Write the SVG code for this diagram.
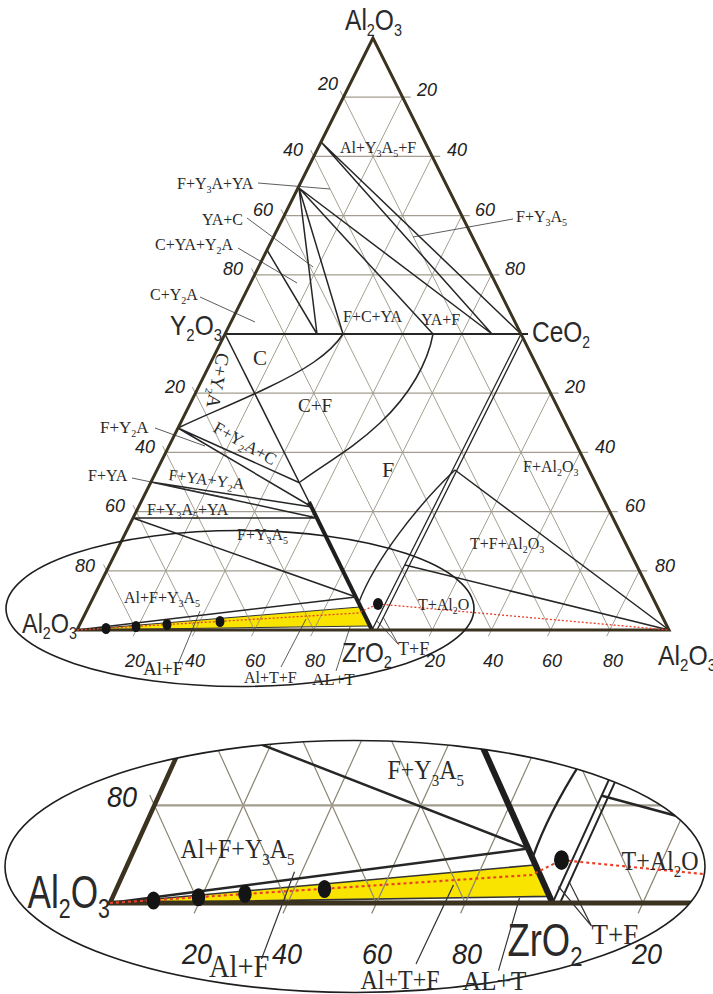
<svg xmlns="http://www.w3.org/2000/svg" width="713" height="994" viewBox="0 0 713 994">
<defs>
<style>
.frame{fill:none;stroke:#3b3220;stroke-width:3;stroke-linejoin:miter}
.gd{fill:none;stroke:#8d8675;stroke-width:0.8}
.gh{fill:none;stroke:#a39d90;stroke-width:1.3}
.ph{fill:none;stroke:#262626;stroke-width:1.5}
.thick{fill:none;stroke:#1e1e1e;stroke-width:4}
.ld{fill:none;stroke:#333;stroke-width:0.8}
.red{fill:none;stroke:#e8402a;stroke-width:1.3;stroke-dasharray:2 2}
.dot{fill:#141414}
.yel{fill:#f9e400;stroke:#333;stroke-width:1}
.ell{fill:none;stroke:#1e1e1e;stroke-width:1.6}
.t{font-family:"Liberation Serif","Times New Roman",serif;font-size:16px;fill:#2a2a2a}
.s{font-size:10px}
.n{font-family:"Liberation Sans",Arial,sans-serif;fill:#2a2a2a}
.tk{font-family:"Liberation Sans",Arial,sans-serif;font-style:italic;font-size:18px;fill:#222}
.m{text-anchor:middle}
</style>
<clipPath id="lowClip"><ellipse cx="355" cy="866.5" rx="350" ry="126"/></clipPath>
</defs>
<rect width="713" height="994" fill="#ffffff"/>

<g id="geom">
  <polygon class="yel" points="78,630 360,607 369,626"/>
  <g id="grid">
    <path class="gd" d="M133.1,636.3L402.6,97.2M192.3,636.3L432.2,156.4M251.5,636.3L461.8,215.6M310.7,636.3L491.4,274.8M429.1,636.3L550.6,393.2M488.3,636.3L580.2,452.4M547.5,636.3L609.8,511.6M606.7,636.3L639.4,570.8"/>
    <path class="gd" d="M340.3,90.9L609.8,630M310.7,150.1L550.6,630M281.1,209.3L491.4,630M251.5,268.5L432.2,630M192.3,386.9L313.8,630M162.7,446.1L254.6,630M133.1,505.3L195.4,630M103.5,564.5L136.2,630"/>
    <path class="gh" d="M343.4,97.2H410.6M313.8,156.4H440.2M284.2,215.6H469.8M254.6,274.8H499.4M195.4,393.2H558.6M165.8,452.4H588.2M136.2,511.6H617.8M106.6,570.8H647.4"/>
  </g>
  <g id="phase-lines">
    <path class="ph" d="M225,334H528" style="stroke-width:2"/>
    <path class="ph" d="M225,334L309,502"/>
    <path class="thick" d="M309,502L372,630"/>
    <path class="ph" d="M521,334L372,630M522.5,339L377,630" style="stroke-width:1.3"/>
    <path class="ph" d="M321,142L521,334M321,142L492,334M299,188L492,334M299,188L433,334M299,188L343,334M299,188L317,334M267,250L317,334"/>
    <path class="ph" d="M343,334C330,354 305,370 267,388S205,415 178,428"/>
    <path class="ph" d="M433,334C428,362 410,395 380,423S330,460 300,482"/>
    <path class="ph" d="M178,428L300,483M178,428L312,507M151,482L312,507M151,482L317,518M133,518L317,518M133,518L356,597M77,630L356,597"/>
    <path class="ph" d="M455,470C418,505 375,560 359,602"/>
    <path class="ph" d="M455,470L669,630M405,565L669,630"/>
  </g>
  <polygon class="frame" points="373,38 77,630 669,630"/>
  <path class="red" d="M77,630L358,613L378,604L669,630"/>
  <g id="dots">
    <ellipse class="dot" cx="106" cy="628.5" rx="4.5" ry="5.5"/>
    <ellipse class="dot" cx="136" cy="626.5" rx="4.5" ry="5.5"/>
    <ellipse class="dot" cx="167" cy="624.5" rx="4.5" ry="5.5"/>
    <ellipse class="dot" cx="220" cy="621.5" rx="4.5" ry="5.5"/>
    <ellipse class="dot" cx="378" cy="604" rx="5" ry="6"/>
  </g>
  <g id="leaders">
    <path class="ld" d="M258,183L330,189M247,218L313,267M238,248L297,283M200,297L255,322M513,219L413,237M155,428L205,446M132,478L233,499M398,644L376,620M398,644L383,617M178,664L200,611M281,667L306,619M336,671L350,627"/>
  </g>
</g>

<ellipse id="upper-ellipse" class="ell" cx="240" cy="608.5" rx="234" ry="78"/>

<g id="labels">
  <text class="n" x="345" y="30" font-size="29" textLength="57" lengthAdjust="spacingAndGlyphs">Al<tspan font-size="17" dy="6">2</tspan><tspan dy="-6">O</tspan><tspan font-size="17" dy="6">3</tspan></text>
  <text class="n" x="170" y="335" font-size="28" textLength="52" lengthAdjust="spacingAndGlyphs">Y<tspan font-size="17" dy="6">2</tspan><tspan dy="-6">O</tspan><tspan font-size="17" dy="6">3</tspan></text>
  <text class="n" x="532" y="342" font-size="30" textLength="58" lengthAdjust="spacingAndGlyphs">CeO<tspan font-size="17" dy="6">2</tspan></text>
  <text class="n" x="658" y="665" font-size="28" textLength="58" lengthAdjust="spacingAndGlyphs">Al<tspan font-size="17" dy="6">2</tspan><tspan dy="-6">O</tspan><tspan font-size="17" dy="6">3</tspan></text>

  <text class="t" x="340" y="153">Al+Y<tspan class="s" dy="4">3</tspan><tspan dy="-4">A</tspan><tspan class="s" dy="4">5</tspan><tspan dy="-4">+F</tspan></text>
  <text class="t" x="177" y="189">F+Y<tspan class="s" dy="4">3</tspan><tspan dy="-4">A+YA</tspan></text>
  <text class="t" x="202" y="225">YA+C</text>
  <text class="t" x="155" y="250">C+YA+Y<tspan class="s" dy="4">2</tspan><tspan dy="-4">A</tspan></text>
  <text class="t" x="150" y="300">C+Y<tspan class="s" dy="4">2</tspan><tspan dy="-4">A</tspan></text>
  <text class="t" x="516" y="222">F+Y<tspan class="s" dy="4">3</tspan><tspan dy="-4">A</tspan><tspan class="s" dy="4">5</tspan></text>
  <text class="t" x="343" y="322">F+C+YA</text>
  <text class="t" x="421" y="325">YA+F</text>
  <text class="t" x="253" y="365" style="font-size:21px">C</text>
  <text class="t" x="298" y="412" style="font-size:19px">C+F</text>
  <text class="t" x="382" y="477" style="font-size:22px">F</text>
  <text class="t" x="523" y="472">F+Al<tspan class="s" dy="4">2</tspan><tspan dy="-4">O</tspan><tspan class="s" dy="4">3</tspan></text>
  <text class="t" x="470" y="549">T+F+Al<tspan class="s" dy="4">2</tspan><tspan dy="-4">O</tspan><tspan class="s" dy="4">3</tspan></text>
  <text class="t" x="100" y="433" style="font-size:17px">F+Y<tspan class="s" dy="4">2</tspan><tspan dy="-4">A</tspan></text>
  <text class="t" x="88" y="481">F+YA</text>
  <text class="t" x="168" y="480" transform="rotate(7 168 480)">F+YA+Y<tspan class="s" dy="4">2</tspan><tspan dy="-4">A</tspan></text>
  <text class="t" x="147" y="515">F+Y<tspan class="s" dy="4">3</tspan><tspan dy="-4">A</tspan><tspan class="s" dy="4">5</tspan><tspan dy="-4">+YA</tspan></text>
  <text class="t" x="237" y="540">F+Y<tspan class="s" dy="4">3</tspan><tspan dy="-4">A</tspan><tspan class="s" dy="4">5</tspan></text>
  <text class="t" x="212" y="431" style="font-size:17px" transform="rotate(30 212 431)">F+Y<tspan class="s" dy="4">2</tspan><tspan dy="-4">A+C</tspan></text>
  <text class="t" x="217" y="352" style="font-size:19px" transform="rotate(101 217 352)">C+Y<tspan class="s" dy="4">2</tspan><tspan dy="-4">A</tspan></text>

  <text class="tk" x="318" y="90">20</text>
  <text class="tk" x="283" y="156">40</text>
  <text class="tk" x="253" y="216">60</text>
  <text class="tk" x="223" y="275">80</text>
  <text class="tk" x="417" y="96">20</text>
  <text class="tk" x="447" y="156">40</text>
  <text class="tk" x="475" y="216">60</text>
  <text class="tk" x="505" y="275">80</text>
  <text class="tk" x="165" y="393">20</text>
  <text class="tk" x="135" y="453">40</text>
  <text class="tk" x="105" y="512">60</text>
  <text class="tk" x="565" y="393">20</text>
  <text class="tk" x="595" y="453">40</text>
  <text class="tk" x="625" y="512">60</text>
  <text class="tk" x="655" y="572">80</text>
  <text class="tk m" x="493" y="667">40</text>
  <text class="tk m" x="552" y="667">60</text>
  <text class="tk m" x="613" y="667">80</text>

  <g id="ellipse-labels">
    <text class="n" x="22" y="633" font-size="28" textLength="55" lengthAdjust="spacingAndGlyphs">Al<tspan font-size="17" dy="6">2</tspan><tspan dy="-6">O</tspan><tspan font-size="17" dy="6">3</tspan></text>
    <text class="n" x="342" y="662" font-size="28" textLength="50" lengthAdjust="spacingAndGlyphs">ZrO<tspan font-size="17" dy="6">2</tspan></text>
    <text class="tk" x="75" y="572">80</text>
    <text class="tk m" x="135" y="667">20</text>
    <text class="tk m" x="195" y="667">40</text>
    <text class="tk m" x="255" y="667">60</text>
    <text class="tk m" x="315" y="667">80</text>
    <text class="tk m" x="435" y="667">20</text>
    <text class="t" x="124" y="603">Al+F+Y<tspan class="s" dy="4">3</tspan><tspan dy="-4">A</tspan><tspan class="s" dy="4">5</tspan></text>
    <text class="t" x="418" y="610">T+Al<tspan class="s" dy="4">2</tspan><tspan dy="-4">O</tspan></text>
    <text class="t" x="398" y="655" style="font-size:18px">T+F</text>
    <text class="t" x="143" y="675" style="font-size:19px">Al+F</text>
    <text class="t" x="244" y="683">Al+T+F</text>
    <text class="t" x="312" y="685" style="font-size:17px">AL+T</text>
  </g>
</g>

<g id="zoom-view">
  <g clip-path="url(#lowClip)">
    <use href="#geom" transform="matrix(1.5 0 0 1.65 -5.5 -136.5)"/>
  </g>
  <ellipse class="ell" cx="355" cy="866.5" rx="350" ry="126"/>
  <g id="zoom-labels" transform="matrix(1.5 0 0 1.65 -5.5 -136.5)">
    <text class="n" x="22" y="633" font-size="28" textLength="55" lengthAdjust="spacingAndGlyphs">Al<tspan font-size="17" dy="6">2</tspan><tspan dy="-6">O</tspan><tspan font-size="17" dy="6">3</tspan></text>
    <text class="n" x="342" y="662" font-size="28" textLength="50" lengthAdjust="spacingAndGlyphs">ZrO<tspan font-size="17" dy="6">2</tspan></text>
    <text class="tk" x="75" y="572">80</text>
    <text class="tk m" x="135" y="667">20</text>
    <text class="tk m" x="195" y="667">40</text>
    <text class="tk m" x="255" y="667">60</text>
    <text class="tk m" x="315" y="667">80</text>
    <text class="tk m" x="435" y="667">20</text>
    <text class="t" x="124" y="603">Al+F+Y<tspan class="s" dy="4">3</tspan><tspan dy="-4">A</tspan><tspan class="s" dy="4">5</tspan></text>
    <text class="t" x="262" y="555">F+Y<tspan class="s" dy="4">3</tspan><tspan dy="-4">A</tspan><tspan class="s" dy="4">5</tspan></text>
    <text class="t" x="418" y="610">T+Al<tspan class="s" dy="4">2</tspan><tspan dy="-4">O</tspan></text>
    <text class="t" x="398" y="655" style="font-size:18px">T+F</text>
    <text class="t" x="143" y="675" style="font-size:19px">Al+F</text>
    <text class="t" x="244" y="682">Al+T+F</text>
    <text class="t" x="312" y="683" style="font-size:17px">AL+T</text>
  </g>
</g>
</svg>
